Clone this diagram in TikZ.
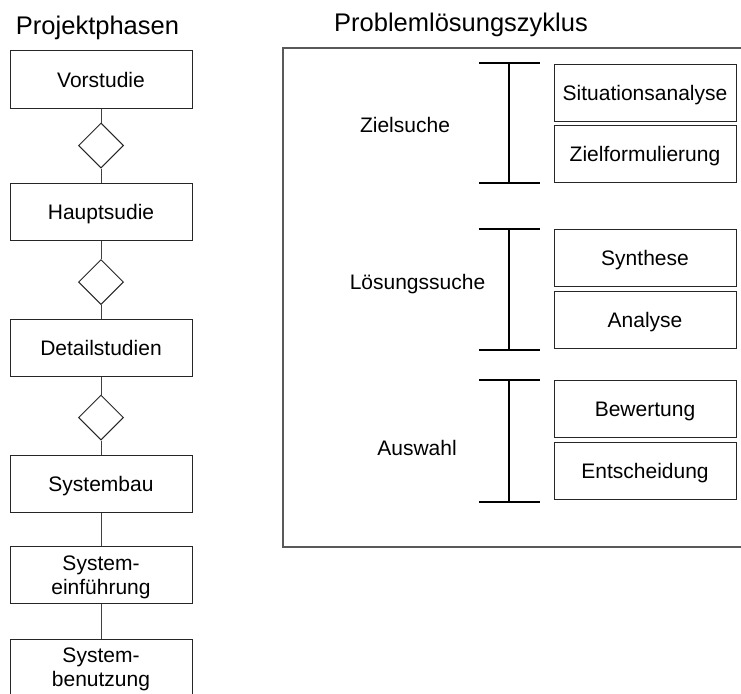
\documentclass[tikz,border=0pt]{standalone}
\usepackage{fontspec}
\setmainfont{Liberation Sans}
\usetikzlibrary{shapes.geometric}

\tikzset{
  x=1pt, y=-1pt,
  boxtext/.style={font=\fontsize{21}{24}\selectfont},
  phasebox/.style={boxtext, draw=black!85, line width=1pt, minimum width=182pt,
    minimum height=57pt, inner sep=0pt, text height=15pt, text depth=0pt},
  twoline/.style={phasebox, text height=39pt},
  gate/.style={diamond, draw=black!85, line width=1pt, aspect=1,
    minimum width=45pt, minimum height=45pt, inner sep=0pt},
  link/.style={draw=black!75, line width=1pt},
  bracket/.style={draw=black, line width=1.8pt},
  frame/.style={draw=black!65, line width=1.2pt},
  heading/.style={font=\fontsize{25.5}{30}\selectfont, anchor=base},
  grouplabel/.style={boxtext, text height=15pt, text depth=0pt, inner sep=0pt}
}

\newcommand{\twolines}[2]{\parbox[b]{170pt}{\centering #1\\#2}}

\begin{document}
\begin{tikzpicture}
\path[use as bounding box, clip] (0,0) rectangle (741,693);

% headings
\node[heading] (tphases) at (97.5,35) {Projektphasen};
\node[heading] (tcycle) at (461,32) {Problemlösungszyklus};

% project phases
\node[phasebox] (vor) at (101,79.5) {Vorstudie};
\node[gate] (g1) at (101,145.5) {};
\node[phasebox] (haupt) at (101,211.5) {Hauptsudie};
\node[gate] (g2) at (101,282) {};
\node[phasebox] (detail) at (101,348) {Detailstudien};
\node[gate] (g3) at (101,417.5) {};
\node[phasebox] (bau) at (101,484) {Systembau};
\node[twoline] (einf) at (101,575) {\twolines{System-}{einführung}};
% last phase runs on below the lower edge
\node[twoline, minimum height=80pt, text depth=25pt] (benutz) at (101,679)
  {\twolines{System-}{benutzung}};

\draw[link] (vor) -- (g1);
\draw[link] (g1) -- (haupt);
\draw[link] (haupt) -- (g2);
\draw[link] (g2) -- (detail);
\draw[link] (detail) -- (g3);
\draw[link] (g3) -- (bau);
\draw[link] (bau) -- (einf);
\draw[link] (einf) -- (benutz);

% problem solving cycle frame
\draw[frame] (283,48) rectangle (780,547);

% steps
\node[phasebox] (situ) at (645,93) {Situationsanalyse};
\node[phasebox] (zielf) at (645,153.5) {Zielformulierung};
\node[phasebox] (synth) at (645,257.5) {Synthese};
\node[phasebox] (anal) at (645,320) {Analyse};
\node[phasebox] (bew) at (645,408.5) {Bewertung};
\node[phasebox] (ent) at (645,471) {Entscheidung};

% group labels
\node[grouplabel] (ziel) at (405,125) {Zielsuche};
\node[grouplabel] (loes) at (417.5,282) {Lösungssuche};
\node[grouplabel] (ausw) at (417,448) {Auswahl};

% brackets spanning each group
\foreach \top/\bot/\nm in {63/183/a, 229/350/b, 380/502/c}{
  \coordinate (\nm top) at (509,\top);
  \coordinate (\nm bot) at (509,\bot);
  \draw[bracket] (\nm top) -- (\nm bot);
  \draw[bracket] ([xshift=-30pt]\nm top) -- ([xshift=31pt]\nm top);
  \draw[bracket] ([xshift=-30pt]\nm bot) -- ([xshift=31pt]\nm bot);
}
\end{tikzpicture}
\end{document}
